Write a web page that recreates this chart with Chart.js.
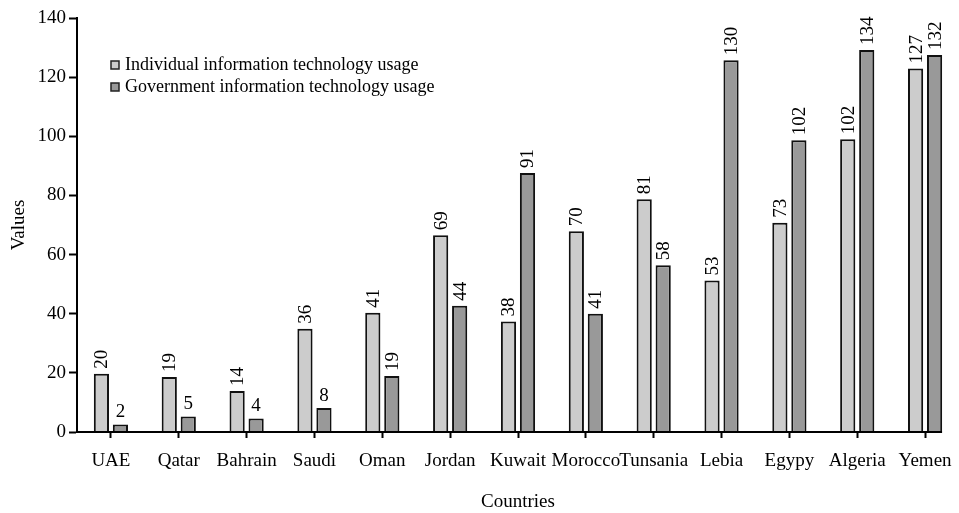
<!DOCTYPE html>
<html>
<head>
<meta charset="utf-8">
<script src="https://cdn.jsdelivr.net/npm/chart.js@4.4.1/dist/chart.umd.min.js"></script>
<style>
  html, body { margin: 0; padding: 0; background: #fff; }
  #wrap { width: 959px; height: 513px; }
</style>
</head>
<body>
<div id="wrap"><canvas id="barChart"></canvas></div>
<script>
const countries = ["UAE", "Qatar", "Bahrain", "Saudi", "Oman", "Jordan", "Kuwait", "Morocco", "Tunsania", "Lebia", "Egypy", "Algeria", "Yemen"];
// bar heights as drawn
const individualBars = [19.7, 18.6, 13.9, 34.9, 40.3, 66.5, 37.4, 67.9, 78.7, 51.2, 70.8, 99.0, 122.9];
const governmentBars = [2.5, 5.2, 4.6, 8.1, 18.9, 42.7, 87.6, 40.0, 56.4, 125.7, 98.7, 129.2, 127.5];
// numbers printed over the bars
const individualLabels = [20, 19, 14, 36, 41, 69, 38, 70, 81, 53, 73, 102, 127];
const governmentLabels = [2, 5, 4, 8, 19, 44, 91, 41, 58, 130, 102, 134, 132];
const yTicks = [0, 20, 40, 60, 80, 100, 120, 140];

const serif = "'Liberation Serif', 'Times New Roman', serif";

const barLabels = {
  id: "barLabels",
  afterDatasetsDraw(chart) {
    const ctx = chart.ctx;
    const sets = [individualLabels, governmentLabels];
    ctx.save();
    ctx.fillStyle = "#000";
    ctx.font = "19px " + serif;
    chart.data.datasets.forEach((ds, i) => {
      chart.getDatasetMeta(i).data.forEach((bar, j) => {
        const txt = String(sets[i][j]);
        if (txt.length > 1) {
          ctx.save();
          ctx.translate(bar.x + 1, bar.y - 5);
          ctx.rotate(-Math.PI / 2);
          ctx.textAlign = "left";
          ctx.textBaseline = "middle";
          ctx.fillText(txt, 0, 0);
          ctx.restore();
        } else {
          ctx.textAlign = "center";
          ctx.textBaseline = "bottom";
          ctx.fillText(txt, bar.x, bar.y - 3);
        }
      });
    });
    ctx.restore();
  }
};

const extras = {
  id: "extras",
  afterDraw(chart) {
    const ctx = chart.ctx;
    const area = chart.chartArea;
    const xs = chart.scales.x;
    ctx.save();
    // x axis line, stops just past the last group
    ctx.strokeStyle = "#000";
    ctx.lineWidth = 2;
    ctx.beginPath();
    ctx.moveTo(area.left - 1, area.bottom);
    ctx.lineTo(xs.getPixelForTick(countries.length - 1) + 17, area.bottom);
    ctx.stroke();

    // legend
    ctx.font = "18px " + serif;
    ctx.textBaseline = "middle";
    ctx.textAlign = "left";
    chart.data.datasets.forEach((ds, i) => {
      const y = 65 + i * 22;
      ctx.fillStyle = ds.backgroundColor;
      ctx.fillRect(111, y - 4, 8, 8);
      ctx.lineWidth = 1.5;
      ctx.strokeStyle = "#222";
      ctx.strokeRect(111, y - 4, 8, 8);
      ctx.fillStyle = "#000";
      ctx.fillText(ds.label, 125, y);
    });
    ctx.restore();
  }
};

new Chart(document.getElementById("barChart").getContext("2d"), {
  type: "bar",
  data: {
    labels: countries,
    datasets: [{
      label: "Individual information technology usage",
      data: individualBars,
      backgroundColor: "#cccccc",
      borderColor: "#111",
      borderWidth: 2,
      borderSkipped: "bottom"
    }, {
      label: "Government information technology usage",
      data: governmentBars,
      backgroundColor: "#999999",
      borderColor: "#111",
      borderWidth: 2,
      borderSkipped: "bottom"
    }]
  },
  options: {
    responsive: true,
    maintainAspectRatio: false,
    animation: false,
    devicePixelRatio: 1,
    layout: { padding: { top: 18, right: 0, left: 0, bottom: 0 } },
    datasets: { bar: { categoryPercentage: 0.56, barPercentage: 0.8 } },
    plugins: { legend: { display: false }, tooltip: { enabled: false } },
    scales: {
      x: {
        offset: true,
        grid: { display: true, drawOnChartArea: false, offset: false, tickLength: 6, tickWidth: 2, tickColor: "#000" },
        border: { display: false },
        ticks: { color: "#000", font: { family: serif, size: 19 }, padding: 12, maxRotation: 0, autoSkip: false },
        title: { display: true, text: "Countries", color: "#000", font: { family: serif, size: 19 }, padding: { top: 22, bottom: 0 } },
        afterFit(scale) {
          scale.height = 81;
          scale.paddingLeft = 0;
          scale.paddingRight = 0;
        }
      },
      y: {
        min: 0,
        max: 140,
        afterBuildTicks(scale) { scale.ticks = yTicks.map(v => ({ value: v })); },
        grid: { display: true, drawOnChartArea: false, tickLength: 8, tickWidth: 2, tickColor: "#000" },
        border: { display: true, color: "#000", width: 2 },
        ticks: { color: "#000", font: { family: serif, size: 19 }, padding: 3 },
        title: { display: true, text: "Values", color: "#000", font: { family: serif, size: 19 }, padding: { top: 8, bottom: 0 } },
        afterFit(scale) { scale.width = 77; }
      }
    }
  },
  plugins: [barLabels, extras]
});
</script>
</body>
</html>
